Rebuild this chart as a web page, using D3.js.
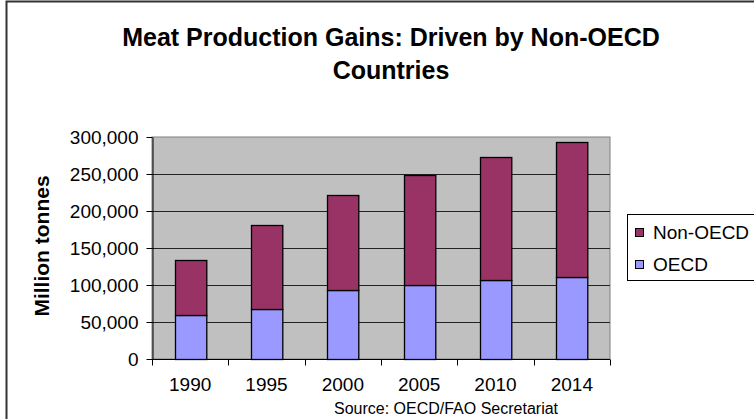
<!DOCTYPE html>
<html>
<head>
<meta charset="utf-8">
<script src="https://cdn.jsdelivr.net/npm/d3@7"></script>
<style>
  body { margin: 0; background: #fff; }
  svg { display: block; font-family: "Liberation Sans", Arial, sans-serif; }
</style>
</head>
<body>
<svg id="chart" width="754" height="419"></svg>
<script>
const years = ['1990', '1995', '2000', '2005', '2010', '2014'];
const oecd = [60000, 67500, 93000, 100000, 106500, 111000];
const nonOecd = [74000, 113000, 128500, 149000, 166500, 182500];
const yTicks = [0, 50000, 100000, 150000, 200000, 250000, 300000];
const seriesNames = ['OECD', 'Non-OECD'];
const colors = { 'OECD': '#9999FF', 'Non-OECD': '#993366' };

const svg = d3.select('#chart');
const plot = { left: 152, right: 610, top: 137, bottom: 359 };

// outer chart border (cropped at right/bottom)
svg.append('rect')
  .attr('x', 6.5).attr('y', 1.5)
  .attr('width', 760).attr('height', 430)
  .attr('fill', '#fff')
  .attr('stroke', '#333').attr('stroke-width', 2);

// title
const title = svg.append('text')
  .attr('text-anchor', 'middle')
  .style('font-weight', 'bold')
  .style('font-size', '25px');
title.append('tspan').attr('x', 391).attr('y', 46).text('Meat Production Gains: Driven by Non-OECD');
title.append('tspan').attr('x', 391).attr('y', 79).text('Countries');

const x = d3.scaleBand().domain(years).range([plot.left, plot.right]).paddingInner(0.59).paddingOuter(0.295);
const y = d3.scaleLinear().domain([0, 300000]).range([plot.bottom, plot.top]);

// plot background
svg.append('rect')
  .attr('x', plot.left).attr('y', plot.top)
  .attr('width', plot.right - plot.left).attr('height', plot.bottom - plot.top)
  .attr('fill', '#C0C0C0')
  .attr('stroke', '#808080');

// gridlines
svg.append('g')
  .selectAll('line')
  .data(yTicks.filter(d => d > 0 && d < 300000))
  .enter()
  .append('line')
  .attr('x1', plot.left).attr('x2', plot.right)
  .attr('y1', d => Math.round(y(d)) + 0.5).attr('y2', d => Math.round(y(d)) + 0.5)
  .attr('stroke', '#222').attr('stroke-width', 1);

// stacked bars
const rows = years.map((yr, i) => ({ year: yr, 'OECD': oecd[i], 'Non-OECD': nonOecd[i] }));
const stack = d3.stack().keys(seriesNames)(rows);

svg.append('g')
  .selectAll('g')
  .data(stack)
  .enter()
  .append('g')
  .attr('fill', d => colors[d.key])
  .selectAll('rect')
  .data(d => d)
  .enter()
  .append('rect')
  .attr('x', d => Math.round(x(d.data.year)) + 0.5)
  .attr('y', d => Math.round(y(d[1])) + 0.5)
  .attr('width', x.bandwidth())
  .attr('height', d => Math.round(y(d[0])) - Math.round(y(d[1])))
  .attr('stroke', '#000').attr('stroke-width', 1.3);

// y axis
const yAxis = svg.append('g')
  .attr('transform', 'translate(' + (plot.left + 0.5) + ',0)')
  .call(d3.axisLeft(y).tickValues(yTicks).tickSize(6).tickSizeOuter(0).tickFormat(d3.format(',')));
yAxis.select('.domain').attr('stroke', '#000');
yAxis.selectAll('line').attr('stroke', '#000');
yAxis.selectAll('text')
  .attr('x', -14)
  .style('font-size', '19px')
  .style('font-family', '"Liberation Sans", Arial, sans-serif')
  .attr('fill', '#000');

// x axis: ticks at category boundaries
const step = x.step();
const xAxis = svg.append('g')
  .attr('transform', 'translate(0,' + (plot.bottom + 0.5) + ')');
xAxis.append('line')
  .attr('x1', plot.left).attr('x2', plot.right)
  .attr('stroke', '#000');
xAxis.selectAll('.tick')
  .data(d3.range(years.length + 1))
  .enter()
  .append('line')
  .attr('x1', i => Math.round(plot.left + i * step) + 0.5)
  .attr('x2', i => Math.round(plot.left + i * step) + 0.5)
  .attr('y1', 0).attr('y2', 6)
  .attr('stroke', '#000');
xAxis.selectAll('text')
  .data(years)
  .enter()
  .append('text')
  .attr('x', d => x(d) + x.bandwidth() / 2)
  .attr('y', 31)
  .attr('text-anchor', 'middle')
  .style('font-size', '19px')
  .text(d => d);

// y axis title
svg.append('text')
  .attr('transform', 'translate(49,246) rotate(-90)')
  .attr('text-anchor', 'middle')
  .style('font-weight', 'bold')
  .style('font-size', '21px')
  .text('Million tonnes');

// source
svg.append('text')
  .attr('x', 446).attr('y', 414)
  .attr('text-anchor', 'middle')
  .style('font-size', '16px')
  .text('Source: OECD/FAO Secretariat');

// legend
const legend = svg.append('g');
legend.append('rect')
  .attr('x', 627.5).attr('y', 214.5)
  .attr('width', 140).attr('height', 66)
  .attr('fill', '#fff').attr('stroke', '#000');
const legendItems = ['Non-OECD', 'OECD'];
const li = legend.selectAll('g.item')
  .data(legendItems)
  .enter()
  .append('g')
  .attr('transform', (d, i) => 'translate(0,' + (i * 32) + ')');
li.append('rect')
  .attr('x', 635.5).attr('y', 228.5)
  .attr('width', 8).attr('height', 8)
  .attr('fill', d => colors[d])
  .attr('stroke', '#000');
li.append('text')
  .attr('x', 653).attr('y', 239)
  .style('font-size', '19px')
  .text(d => d);
</script>
</body>
</html>
